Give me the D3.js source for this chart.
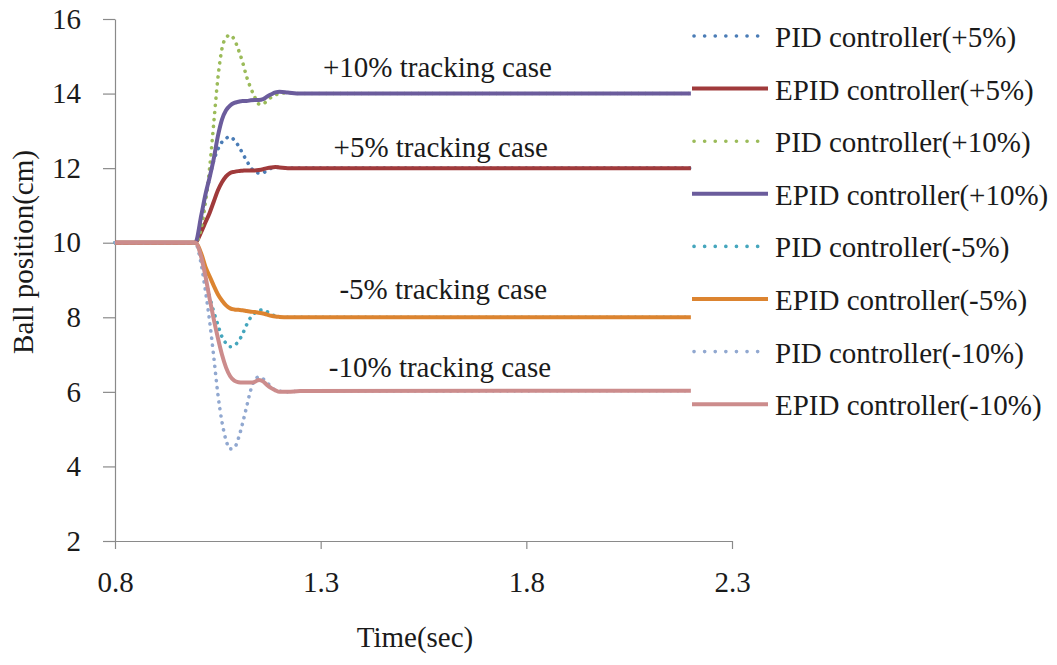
<!DOCTYPE html>
<html>
<head>
<meta charset="utf-8">
<script src="https://cdn.jsdelivr.net/npm/d3@7"></script>
<style>
  html, body { margin: 0; padding: 0; background: #ffffff; }
  svg { display: block; }
  svg text { font-family: "Liberation Serif", "Tinos", "Times New Roman", "Nimbus Roman", "DejaVu Serif", serif !important; fill: #1a1a1a; }
</style>
</head>
<body>
<svg id="chart" width="1057" height="665"></svg>
<script>
// ---------- data ----------
const timeSec = [0.8, 0.995, 1.01, 1.02, 1.03, 1.04, 1.05, 1.06, 1.07, 1.08, 1.09, 1.10, 1.11, 1.12, 1.13, 1.14, 1.15, 1.16, 1.17, 1.18, 1.19, 1.20, 1.22, 1.25, 2.2];

const pidPlus5   = [10, 10, 10.6, 11.2, 11.75, 12.2, 12.5, 12.7, 12.8, 12.84, 12.75, 12.6, 12.4, 12.2, 12.02, 11.9, 11.87, 11.88, 11.93, 12.0, 12.02, 12.02, 12.0, 12.0, 12.0];
const epidPlus5  = [10, 10, 10.3, 10.55, 10.8, 11.1, 11.4, 11.62, 11.78, 11.87, 11.9, 11.92, 11.93, 11.94, 11.94, 11.94, 11.95, 11.97, 12.0, 12.02, 12.03, 12.02, 12.0, 12.0, 12.0];
const pidPlus10  = [10, 10, 10.4, 11.1, 12.0, 13.2, 14.4, 15.2, 15.5, 15.57, 15.45, 15.18, 14.85, 14.45, 14.15, 13.9, 13.72, 13.72, 13.82, 13.9, 13.96, 14.0, 14.02, 14.0, 14.0];
const epidPlus10 = [10, 10, 10.75, 11.3, 11.75, 12.25, 12.85, 13.3, 13.55, 13.68, 13.75, 13.78, 13.8, 13.8, 13.82, 13.83, 13.83, 13.85, 13.92, 13.98, 14.03, 14.05, 14.03, 14.0, 14.0];
const pidMinus5  = [10, 10, 9.5, 9.0, 8.55, 8.15, 7.8, 7.48, 7.3, 7.21, 7.25, 7.35, 7.55, 7.8, 8.0, 8.12, 8.18, 8.2, 8.15, 8.08, 8.03, 8.0, 8.0, 8.0, 8.0];
const epidMinus5 = [10, 10, 9.7, 9.35, 9.1, 8.85, 8.62, 8.45, 8.32, 8.24, 8.21, 8.2, 8.19, 8.17, 8.15, 8.14, 8.12, 8.1, 8.07, 8.04, 8.02, 8.01, 8.0, 8.0, 8.0];
const pidMinus10 = [10, 10, 9.4, 8.7, 7.9, 6.95, 5.95, 5.2, 4.7, 4.47, 4.5, 4.75, 5.15, 5.6, 6.05, 6.32, 6.4, 6.35, 6.25, 6.12, 6.05, 6.02, 6.0, 6.02, 6.03];
const epidMinus10= [10, 10, 9.6, 9.1, 8.5, 7.95, 7.45, 7.0, 6.65, 6.42, 6.3, 6.26, 6.25, 6.25, 6.25, 6.27, 6.32, 6.28, 6.18, 6.1, 6.04, 6.0, 6.0, 6.02, 6.03];

const seriesNames = ["PID controller(+5%)", "EPID controller(+5%)", "PID controller(+10%)", "EPID controller(+10%)",
                     "PID controller(-5%)", "EPID controller(-5%)", "PID controller(-10%)", "EPID controller(-10%)"];
const seriesValues = [pidPlus5, epidPlus5, pidPlus10, epidPlus10, pidMinus5, epidMinus5, pidMinus10, epidMinus10];
const seriesDotted = [true, false, true, false, true, false, true, false];
const seriesColors = ["#4a7cb6", "#a03a3b", "#9bbb59", "#6b5c9c", "#45a6bd", "#dc8430", "#91a8d0", "#cc8c8c"];

const xTicks = [0.8, 1.3, 1.8, 2.3];
const yTicks = [2, 4, 6, 8, 10, 12, 14, 16];

const annotations = ["+10% tracking case", "+5% tracking case", "-5% tracking case", "-10% tracking case"];
const annotationAt = [[1.584, 14.45], [1.592, 12.3], [1.598, 8.5], [1.59, 6.39]];

// ---------- layout ----------
const svg = d3.select("#chart");
const x = d3.scaleLinear().domain([0.8, 2.3]).range([115, 732]);
const y = d3.scaleLinear().domain([2, 16]).range([541, 19]);
const FONT = 29;
const FAMILY = "'Liberation Serif', Tinos, 'Times New Roman', 'DejaVu Serif', serif";

// axes
const xAxis = svg.append("g").attr("transform", `translate(0,${y(2)})`)
  .call(d3.axisBottom(x).tickValues(xTicks).tickFormat(d3.format(".1f")).tickSize(8).tickSizeOuter(0).tickPadding(22));
const yAxis = svg.append("g").attr("transform", `translate(${x(0.8)},0)`)
  .call(d3.axisLeft(y).tickValues(yTicks).tickFormat(d3.format("d")).tickSize(12).tickSizeOuter(0).tickPadding(22));
[xAxis, yAxis].forEach(g => {
  g.attr("font-family", FAMILY).attr("font-size", FONT);
  g.select(".domain").attr("stroke", "#8a8a8a").attr("stroke-width", 1.2);
  g.selectAll(".tick line").attr("stroke", "#8a8a8a").attr("stroke-width", 1.2);
  g.selectAll(".tick text").attr("font-size", FONT).attr("fill", "#1a1a1a");
});

// axis titles
svg.append("text").attr("x", 415).attr("y", 647).attr("text-anchor", "middle")
  .attr("font-family", FAMILY).attr("font-size", FONT).text("Time(sec)");
svg.append("text").attr("transform", `translate(33,252) rotate(-90)`).attr("text-anchor", "middle")
  .attr("font-family", FAMILY).attr("font-size", FONT).text("Ball position(cm)");

// lines
const line = d3.line().x((d, i) => x(timeSec[i])).y(d => y(d)).curve(d3.curveMonotoneX);
seriesValues.forEach((vals, k) => {
  const p = svg.append("path").datum(vals).attr("d", line)
    .attr("fill", "none").attr("stroke", seriesColors[k]).attr("stroke-linejoin", "round");
  if (seriesDotted[k]) {
    p.attr("stroke-width", 3.6).attr("stroke-dasharray", "0.1,7").attr("stroke-linecap", "round");
  } else {
    p.attr("stroke-width", 4).attr("stroke-linecap", "butt");
  }
});

// annotations
annotations.forEach((t, i) => {
  svg.append("text").attr("x", x(annotationAt[i][0])).attr("y", y(annotationAt[i][1]))
    .attr("text-anchor", "middle").attr("font-family", FAMILY).attr("font-size", FONT).text(t);
});

// legend
const legend = svg.append("g");
seriesNames.forEach((name, k) => {
  const ly = 36 + k * 52.6;
  const g = legend.append("g");
  if (seriesDotted[k]) {
    g.append("line").attr("x1", 694).attr("x2", 758).attr("y1", ly).attr("y2", ly)
      .attr("stroke", seriesColors[k]).attr("stroke-width", 3.6)
      .attr("stroke-dasharray", "0.1,10.5").attr("stroke-linecap", "round");
  } else {
    g.append("line").attr("x1", 692).attr("x2", 768).attr("y1", ly).attr("y2", ly)
      .attr("stroke", seriesColors[k]).attr("stroke-width", 4);
  }
  g.append("text").attr("x", 775).attr("y", ly + 11).attr("font-family", FAMILY).attr("font-size", FONT).text(name);
});
</script>
</body>
</html>
